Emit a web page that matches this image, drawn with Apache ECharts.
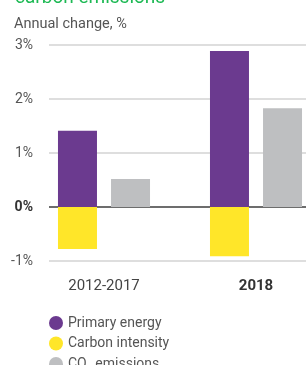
<!DOCTYPE html>
<html>
<head>
<meta charset="utf-8">
<script src="https://cdn.jsdelivr.net/npm/echarts@6/dist/echarts.min.js"></script>
<style>
  html, body { margin: 0; padding: 0; background: #fff; }
  #chart { width: 306px; height: 365px; }
</style>
</head>
<body>
<div id="chart"></div>
<script>
  // categories and values (annual change, %)
  var categories = ['2012-2017', '2018']
  var primaryEnergy = [1.41, 2.89]
  var carbonIntensity = [-0.78, -0.91]
  var co2Emissions = [0.52, 1.83]
  var yTicks = [-1, 0, 1, 2, 3]
  var seriesNames = ['Primary energy', 'Carbon intensity', 'CO₂ emissions']

  var font = 'Roboto, "Noto Sans", sans-serif'
  var chart = echarts.init(document.getElementById('chart'))

  // one legend per row so the list stays in a single column
  var legends = seriesNames.map(function (name, i) {
    return {
      left: 44,
      top: 311 + i * 20.5,
      icon: 'circle',
      itemWidth: 14,
      itemHeight: 14,
      selectedMode: false,
      textStyle: { color: '#555', fontSize: 14, padding: [0, 0, 0, 0] },
      data: [name]
    }
  })

  chart.setOption({
    animation: false,
    textStyle: { fontFamily: font },
    title: [
      {
        text: 'carbon emissions',
        left: 10,
        top: -16,
        textStyle: { color: '#1db954', fontSize: 19, fontWeight: 'normal', fontFamily: font }
      },
      {
        text: 'Annual change, %',
        left: 9,
        top: 12,
        textStyle: { color: '#555', fontSize: 14.5, fontWeight: 'normal', fontFamily: font }
      }
    ],
    legend: legends,
    grid: [
      // grid for axis lines / y labels
      { left: 49, right: 0, top: 45, height: 216, outerBoundsMode: 'none' },
      // grid for bars
      { left: 28, width: 304, top: 45, height: 216, outerBoundsMode: 'none' }
    ],
    xAxis: [
      { gridIndex: 0, type: 'category', data: categories, show: false },
      {
        gridIndex: 1,
        type: 'category',
        data: categories,
        axisLine: { show: false },
        axisTick: { show: false },
        axisLabel: {
          margin: 18,
          fontSize: 15,
          color: '#444',
          formatter: function (v, i) { return i === 1 ? '{b|' + v + '}' : v },
          rich: { b: { fontWeight: 'bold', color: '#333', fontSize: 15 } }
        }
      }
    ],
    yAxis: [
      {
        gridIndex: 0,
        type: 'value',
        min: yTicks[0],
        max: yTicks[yTicks.length - 1],
        interval: 1,
        axisLine: { show: false },
        axisTick: { show: false },
        axisLabel: {
          margin: 16,
          fontSize: 14,
          color: '#555',
          formatter: function (v) { return v === 0 ? '{b|0%}' : v + '%' },
          rich: { b: { fontWeight: 'bold', color: '#333', fontSize: 14 } }
        },
        splitLine: {
          lineStyle: {
            color: ['#d3d3d3', '#3c3c3c', '#d3d3d3', '#d3d3d3', '#d3d3d3'],
            width: 1.5
          }
        }
      },
      {
        gridIndex: 1,
        type: 'value',
        min: yTicks[0],
        max: yTicks[yTicks.length - 1],
        interval: 1,
        show: false,
        splitLine: { show: false }
      }
    ],
    series: [
      {
        name: seriesNames[0],
        type: 'bar',
        xAxisIndex: 1,
        yAxisIndex: 1,
        stack: 'a',
        barWidth: 39,
        barGap: '36%',
        itemStyle: { color: '#6b3a8f' },
        data: primaryEnergy
      },
      {
        name: seriesNames[1],
        type: 'bar',
        xAxisIndex: 1,
        yAxisIndex: 1,
        stack: 'a',
        barWidth: 39,
        barGap: '36%',
        itemStyle: { color: '#ffe629' },
        data: carbonIntensity
      },
      {
        name: seriesNames[2],
        type: 'bar',
        xAxisIndex: 1,
        yAxisIndex: 1,
        barWidth: 39,
        barGap: '36%',
        itemStyle: { color: '#bebfc1' },
        data: co2Emissions
      }
    ]
  })
</script>
</body>
</html>
